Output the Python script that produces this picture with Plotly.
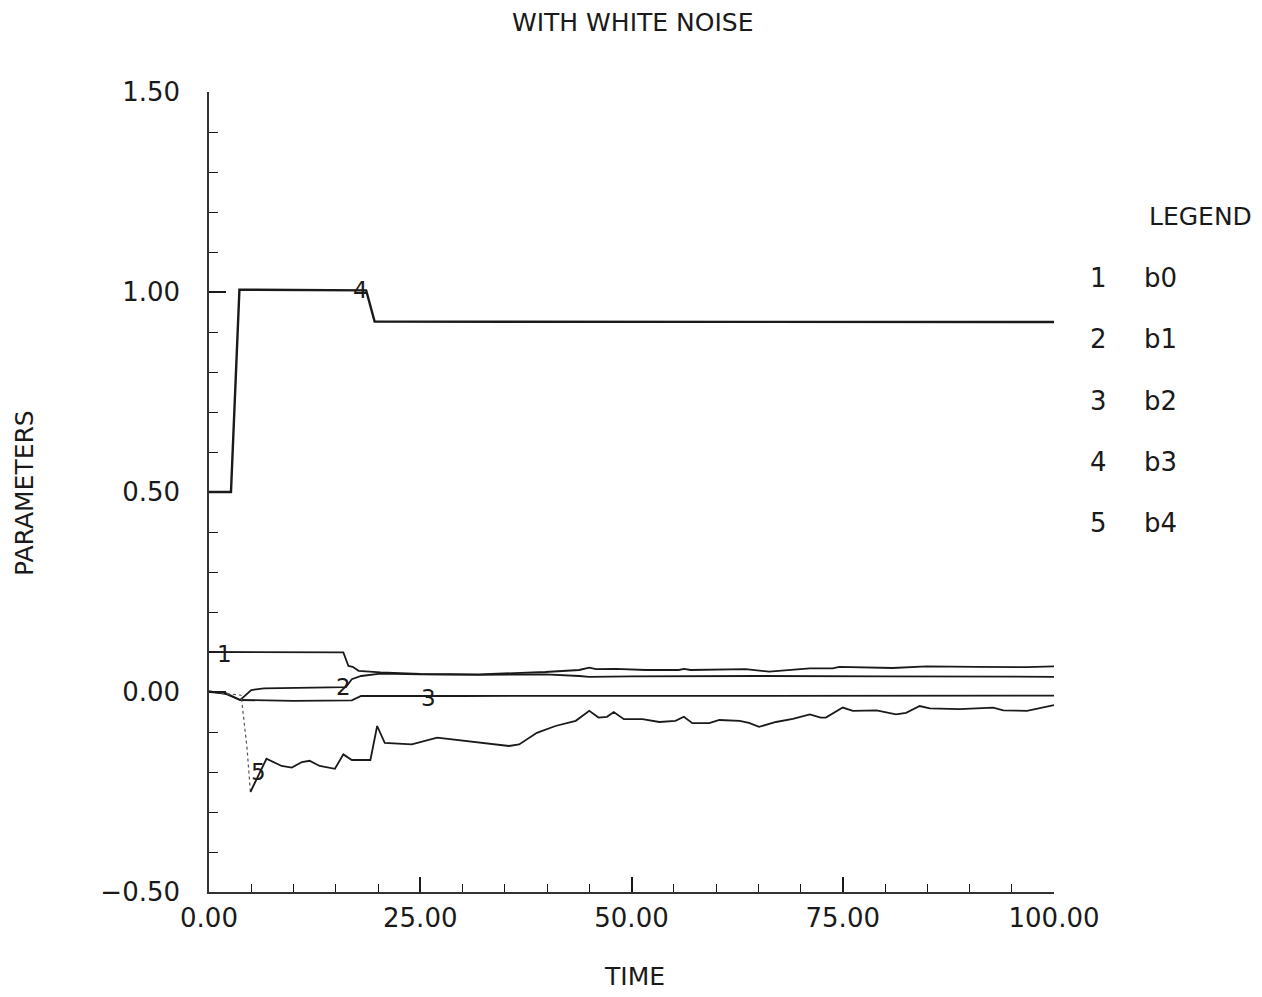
import plotly.graph_objects as go

# ---------------- data ----------------
b0_x = [0, 15.9, 16.5, 17.0, 17.7, 20.3, 25.0, 31.9, 39.8, 43.8, 45.0, 45.8, 48.1, 51.7, 55.6, 56.2, 57.0,
        63.5, 66.3, 67.5, 71.1, 73.8, 74.6, 80.9, 84.9, 90.8, 96.8, 100]
b0_y = [0.100, 0.099, 0.065, 0.063, 0.053, 0.049, 0.045, 0.044, 0.050, 0.055, 0.061, 0.057, 0.058, 0.055,
        0.055, 0.058, 0.055, 0.057, 0.051, 0.053, 0.059, 0.059, 0.063, 0.060, 0.064, 0.063, 0.062, 0.064]

b1_x = [0, 2.0, 3.7, 4.2, 5.0, 6.5, 15.7, 16.2, 16.9, 18.0, 20.3, 25.0, 31.9, 39.8, 43.8, 45.0, 50.0,
        55.6, 65.0, 80.0, 90.0, 100]
b1_y = [0.000, -0.003, -0.020, -0.010, 0.005, 0.009, 0.011, 0.012, 0.032, 0.040, 0.046, 0.044, 0.043,
        0.044, 0.040, 0.038, 0.039, 0.040, 0.040, 0.039, 0.038, 0.038]

b2_x = [0, 2.0, 3.7, 10.0, 16.9, 18.0, 30.0, 60.0, 100]
b2_y = [0.002, -0.005, -0.020, -0.022, -0.021, -0.010, -0.010, -0.010, -0.009]

b3_x = [0, 2.6, 3.6, 18.6, 19.6, 100]
b3_y = [0.500, 0.500, 1.006, 1.004, 0.926, 0.925]

b4_x = [0, 3.8, 4.5, 4.9, 6.8, 8.6, 9.8, 11.0, 11.9, 13.1, 14.9, 15.9, 16.9, 19.1, 19.9, 20.8, 24.0,
        27.0, 30.3, 31.9, 35.5, 36.7, 38.8, 41.0, 43.4, 45.0, 46.1, 47.1, 47.9, 49.1, 51.3, 53.3, 55.2,
        56.2, 57.2, 59.2, 60.4, 62.8, 63.9, 65.1, 67.1, 69.1, 71.1, 72.4, 73.0, 75.0, 76.2, 79.0, 81.3,
        82.5, 84.1, 85.3, 88.8, 92.8, 94.0, 96.8, 98.7, 100]
b4_y = [0.000, -0.008, -0.140, -0.250, -0.167, -0.185, -0.189, -0.175, -0.172, -0.185, -0.192, -0.156,
        -0.170, -0.170, -0.085, -0.127, -0.131, -0.114, -0.122, -0.127, -0.135, -0.131, -0.102, -0.085,
        -0.072, -0.047, -0.064, -0.062, -0.050, -0.068, -0.068, -0.075, -0.072, -0.062, -0.078, -0.078,
        -0.070, -0.072, -0.077, -0.087, -0.075, -0.067, -0.056, -0.064, -0.064, -0.039, -0.047, -0.046,
        -0.056, -0.052, -0.035, -0.041, -0.043, -0.039, -0.046, -0.047, -0.039, -0.033]

series_x = [b0_x, b1_x, b2_x, b3_x, b4_x]
series_y = [b0_y, b1_y, b2_y, b3_y, b4_y]
series_names = ["b0", "b1", "b2", "b3", "b4"]
series_numbers = ["1", "2", "3", "4", "5"]
# number of leading points drawn faint (fast transients printed dotted by the plotter)
faint_lead = [0, 0, 0, 0, 4]
curve_label_x = [1.8, 15.9, 26.0, 17.9, 5.8]
curve_label_y = [0.095, 0.012, -0.015, 1.005, -0.200]

title_text = "WITH WHITE NOISE"
x_title = "TIME"
y_title = "PARAMETERS"
legend_title = "LEGEND"

# ---------------- figure ----------------
FONT = "DejaVu Sans"
INK = "#1a1a1a"
L, R, T, B = 209, 208, 92, 105
W, H = 1262, 997
PW, PH = W - L - R, H - T - B


def px_x(px):
    return (px - L) / PW


def px_y(py):
    return (H - B - py) / PH


fig = go.Figure()
widths = [1.8, 1.8, 1.8, 2.4, 1.8]
for xs, ys, name, w, nf in zip(series_x, series_y, series_names, widths, faint_lead):
    if nf:
        fig.add_trace(go.Scatter(x=xs[:nf], y=ys[:nf], mode="lines", name=name,
                                 line=dict(color="#555", width=1.2, dash="dot"), showlegend=False))
        xs, ys = xs[nf - 1:], ys[nf - 1:]
    fig.add_trace(go.Scatter(x=xs, y=ys, mode="lines", name=name,
                             line=dict(color=INK, width=w), showlegend=False))

annotations = []
for num, lx, ly in zip(series_numbers, curve_label_x, curve_label_y):
    annotations.append(dict(x=lx, y=ly, xref="x", yref="y", text=num, showarrow=False,
                            xanchor="center", yanchor="middle",
                            font=dict(family=FONT, size=23, color=INK)))


def txt(px, py, text, size=26, xanchor="center", angle=0):
    annotations.append(dict(x=px_x(px), y=px_y(py), xref="paper", yref="paper", text=text,
                            xanchor=xanchor, yanchor="middle", textangle=angle, showarrow=False,
                            font=dict(family=FONT, size=size, color=INK)))


txt(632, 22, title_text, size=25)
txt(634, 976, x_title, size=25)
txt(24, 493, y_title, size=25, angle=-90)
txt(1200, 216, legend_title, size=25)
for i, (num, name) in enumerate(zip(series_numbers, series_names)):
    py = 278 + i * 61.3
    txt(1098, py, num, size=26)
    txt(1142, py, name, size=26, xanchor="left")

fig.update_layout(
    width=W, height=H, autosize=False,
    margin=dict(l=L, r=R, t=T, b=B),
    paper_bgcolor="white", plot_bgcolor="white",
    annotations=annotations,
    font=dict(family=FONT, color=INK),
)
fig.update_xaxes(range=[0, 100], tickmode="linear", tick0=0, dtick=25, tickformat=".2f",
                 ticks="inside", ticklen=15, tickwidth=1.5, tickcolor=INK,
                 minor=dict(dtick=5, tick0=0, ticks="inside", ticklen=8, tickwidth=1.3, tickcolor=INK),
                 showline=True, linecolor="#333", linewidth=1.5, showgrid=False, zeroline=False,
                 tickfont=dict(family=FONT, size=26, color=INK), ticklabelstandoff=2)
fig.update_yaxes(range=[-0.5, 1.5], tickmode="linear", tick0=-0.5, dtick=0.5, tickformat=".2f",
                 ticks="inside", ticklen=17, tickwidth=1.5, tickcolor=INK,
                 minor=dict(dtick=0.1, tick0=-0.5, ticks="inside", ticklen=9, tickwidth=1.3, tickcolor=INK),
                 showline=True, linecolor="#333", linewidth=1.5, showgrid=False, zeroline=False,
                 tickfont=dict(family=FONT, size=26, color=INK), ticklabelstandoff=22)

fig.write_html("out.html")
